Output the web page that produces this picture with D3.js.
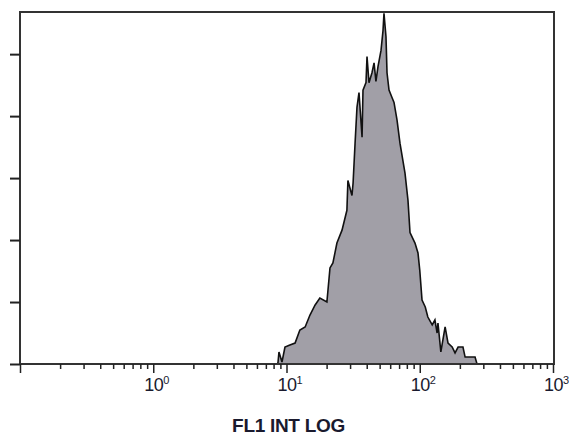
<!DOCTYPE html>
<html>
<head>
<meta charset="utf-8">
<script src="https://cdn.jsdelivr.net/npm/d3@7"></script>
<style>
  body { margin: 0; background: #fff; }
  .tick-label { font-family: "Liberation Sans", Arial, sans-serif; font-size: 18px; fill: #1a1a2e; }
  .axis-title { font-family: "Liberation Sans", Arial, sans-serif; font-size: 19px; font-weight: bold; fill: #1a1a2e; }
</style>
</head>
<body>
<div id="chart"></div>
<script>
// FL1 channel (log scale) and event counts
const fl1 = [8.5, 8.63, 8.78, 9.25, 9.74, 10.6, 11.6, 12.6, 13.8, 15.0, 16.4, 17.8, 20.1, 21.2, 22.3,
  23.9, 26.1, 28.4, 28.9, 31.0, 31.6, 32.7, 33.8, 35.0, 36.9, 37.5, 39.5, 40.2, 41.6, 43.8,
  45.4, 46.9, 48.6, 51.2, 53.0, 53.9, 55.8, 56.8, 58.8, 61.9, 64.1, 67.5, 71.1, 77.5, 81.6,
  84.5, 92.1, 97.0, 100, 104, 110, 115, 124, 130, 135, 137, 144, 155, 163, 175,
  184, 194, 211, 219, 260, 269];
const counts = [0, 1, 9.7, 1.6, 13.7, 15.3, 16.9, 27.4, 29.9, 39.5, 47.6, 53.2, 50.0, 77.5, 81.5,
  97.6, 108, 124, 148, 136, 146, 178, 207, 219, 183, 221, 227, 248, 227, 235,
  243, 228, 240, 253, 269, 283, 264, 235, 221, 215, 211, 197, 178, 154, 132,
  106, 97.6, 89.6, 75.8, 51.6, 46.0, 37.9, 31.5, 35.5, 25.0, 33.1, 9.7, 29.9, 16.9, 13.7,
  8.9, 13.7, 13.7, 5.6, 5.6, 0];
const yTicks = [0, 50, 100, 150, 200, 250];
const decades = [0.1, 1, 10, 100, 1000];
const decadeExp = ["-1", "0", "1", "2", "3"];

const width = 569, height = 437;
const plotLeft = 20, plotRight = 553, plotTop = 12, plotBottom = 364;

const svg = d3.select("#chart").append("svg")
    .attr("width", width)
    .attr("height", height);

const x = d3.scaleLog().domain([0.1, 1000]).range([plotLeft, plotRight]);
const y = d3.scaleLinear().domain([0, 284]).range([plotBottom, plotTop]);

const data = fl1.map((v, i) => ({ v: v, c: counts[i] }));

// histogram fill and outline
svg.append("path")
    .datum(data)
    .attr("fill", "#a19fa7")
    .attr("d", d3.area().x(d => x(d.v)).y0(y(0)).y1(d => y(d.c)));

svg.append("path")
    .datum(data)
    .attr("fill", "none")
    .attr("stroke", "#111")
    .attr("stroke-width", 1.6)
    .attr("d", d3.line().x(d => x(d.v)).y(d => y(d.c)));

// frame
svg.append("rect")
    .attr("x", plotLeft).attr("y", plotTop)
    .attr("width", plotRight - plotLeft + 1).attr("height", plotBottom - plotTop)
    .attr("fill", "none")
    .attr("stroke", "#333")
    .attr("stroke-width", 2);

// y ticks, no labels
svg.append("g")
    .attr("transform", `translate(${plotLeft},0)`)
    .call(d3.axisLeft(y).tickValues(yTicks).tickSize(10).tickFormat(""))
    .call(g => g.select(".domain").remove())
    .call(g => g.selectAll("line").attr("stroke", "#222").attr("stroke-width", 2));

// minor x ticks
const minor = [];
decades.slice(0, -1).forEach(d => { for (let k = 2; k <= 9; k++) minor.push(d * k); });

svg.append("g")
    .attr("transform", `translate(0,${plotBottom})`)
    .call(d3.axisBottom(x).tickValues(minor).tickSize(5).tickFormat(""))
    .call(g => g.select(".domain").remove())
    .call(g => g.selectAll("line").attr("stroke", "#222").attr("stroke-width", 1.5));

// major x ticks
svg.append("g")
    .attr("transform", `translate(0,${plotBottom})`)
    .call(d3.axisBottom(x).tickValues(decades).tickSize(9).tickFormat(""))
    .call(g => g.select(".domain").remove())
    .call(g => g.selectAll("line").attr("stroke", "#222").attr("stroke-width", 1.5));

// decade labels 10^n (skip 10^-1 at the corner)
decades.forEach((d, i) => {
    if (i == 0) return;
    const t = svg.append("text")
        .attr("class", "tick-label")
        .attr("x", x(d) - 9)
        .attr("y", 391)
        .attr("letter-spacing", "-0.5");
    t.append("tspan").text("10");
    t.append("tspan").attr("font-size", "11px").attr("dy", -7).text(decadeExp[i]);
});

svg.append("text")
    .attr("class", "axis-title")
    .attr("x", (plotLeft + plotRight) / 2 + 2)
    .attr("y", 432)
    .attr("text-anchor", "middle")
    .attr("letter-spacing", "-0.3")
    .text("FL1 INT LOG");
</script>
</body>
</html>
